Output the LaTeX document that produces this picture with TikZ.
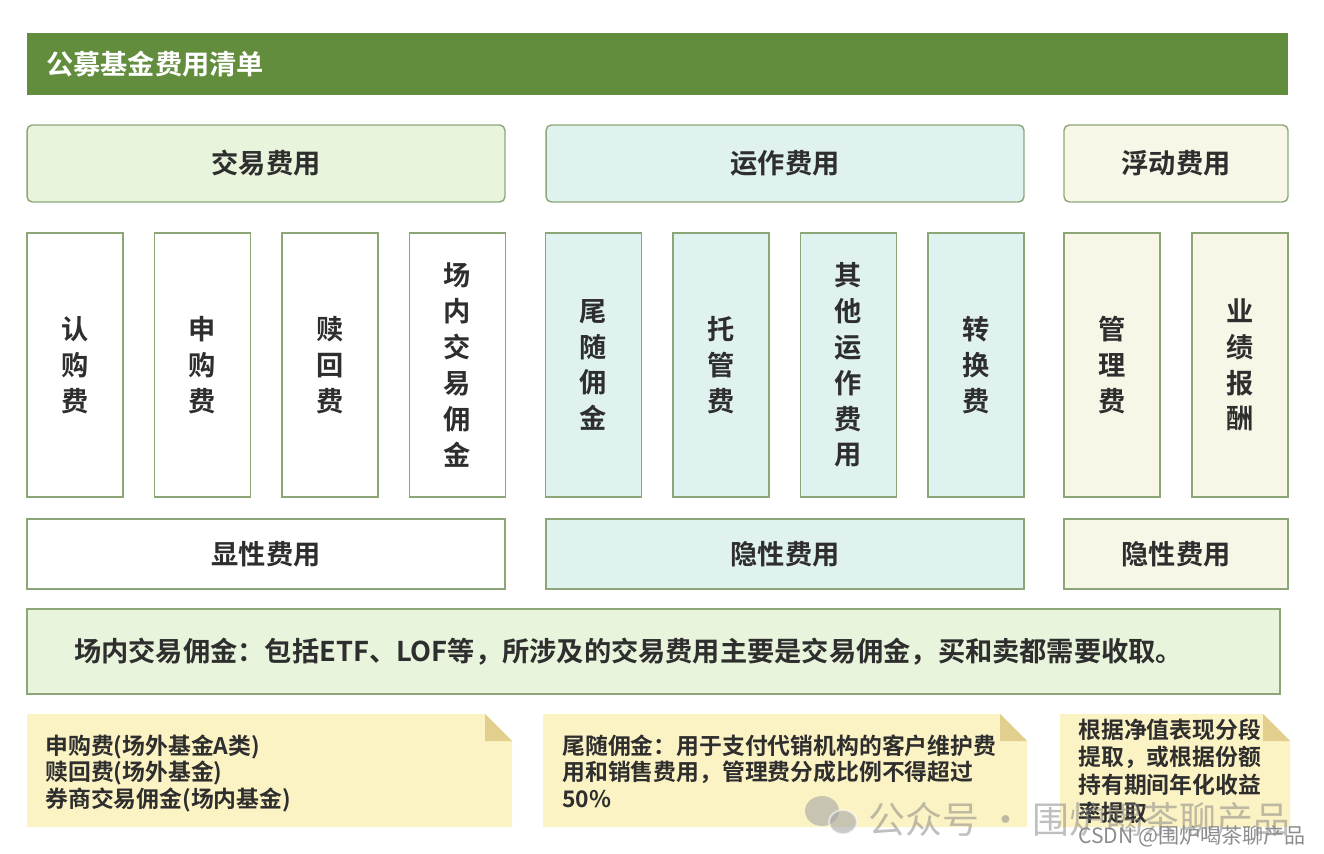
\documentclass[tikz,border=0pt]{standalone}
\usepackage{fontspec}
\setmainfont{Noto Sans CJK SC}[BoldFont={Noto Sans CJK SC Bold}]
\usetikzlibrary{positioning}
\definecolor{titlegreen}{HTML}{628D3C}
\definecolor{boxline}{HTML}{8DA678}
\definecolor{greenfill}{HTML}{E9F4DD}
\definecolor{cyanfill}{HTML}{DFF2EF}
\definecolor{creamfill}{HTML}{F8F6E7}
\definecolor{notefill}{HTML}{FCF3C4}
\definecolor{notefold}{HTML}{E2CF8E}
\definecolor{inkgray}{HTML}{2E2E2E}
\tikzset{
  headbox/.style={draw=boxline, line width=0.8pt, rounded corners=3pt, minimum height=1.54cm, text=inkgray, font=\bfseries\fontsize{15.5}{18}\selectfont},
  colbox/.style={draw=boxline, line width=0.8pt, minimum width=1.92cm, minimum height=5.28cm, align=center, text=inkgray, font=\bfseries\fontsize{15.5}{20.4}\selectfont},
  footbox/.style={draw=boxline, line width=0.8pt, minimum height=1.4cm, text=inkgray, font=\bfseries\fontsize{15.5}{18}\selectfont},
  notetext/.style={anchor=north west, align=left, inner sep=0pt, text=inkgray, font=\bfseries\fontsize{13}{15.3}\selectfont},
}
\begin{document}
\begin{tikzpicture}[x=0.02cm, y=-0.02cm]
    \useasboundingbox (0,0) rectangle (1324,854);
    % title bar
    \node[fill=titlegreen, minimum width=25.22cm, minimum height=1.24cm] (bar) at (657.5,64) {};
    \node[anchor=west, text=white, font=\bfseries\fontsize{15.5}{18}\selectfont] (title) at (40,64) {公募基金费用清单};
    % group headers
    \node[headbox, fill=greenfill, minimum width=9.56cm] (trade) at (266,163.5) {交易费用};
    \node[headbox, fill=cyanfill, minimum width=9.56cm] (oper) at (785,163.5) {运作费用};
    \node[headbox, fill=creamfill, minimum width=4.48cm] (float) at (1176,163.5) {浮动费用};
    % fee columns
    \foreach \cx/\nm/\txt in {75/rg/{认\\购\\费}, 202.5/sg/{申\\购\\费}, 330/sh/{赎\\回\\费}, 457.5/cn/{场\\内\\交\\易\\佣\\金}}
        \node[colbox, fill=white] (\nm) at (\cx,365) {\txt};
    \foreach \cx/\nm/\txt in {593.5/ws/{尾\\随\\佣\\金}, 721/tg/{托\\管\\费}, 848.5/qt/{其\\他\\运\\作\\费\\用}, 976/zh/{转\\换\\费}}
        \node[colbox, fill=cyanfill] (\nm) at (\cx,365) {\txt};
    \foreach \cx/\nm/\txt in {1112/gl/{管\\理\\费}, 1240/yj/{业\\绩\\报\\酬}}
        \node[colbox, fill=creamfill] (\nm) at (\cx,365) {\txt};
    % explicit / hidden
    \node[footbox, fill=white, minimum width=9.56cm] (xian) at (266,554) {显性费用};
    \node[footbox, fill=cyanfill, minimum width=9.56cm] (yin) at (785,554) {隐性费用};
    \node[footbox, fill=creamfill, minimum width=4.48cm] (yin2) at (1176,554) {隐性费用};
    % remark strip
    \node[draw=boxline, line width=0.8pt, fill=greenfill, minimum width=25.06cm, minimum height=1.7cm] (strip) at (653.5,651.5) {};
    \node[anchor=west, text=inkgray, font=\bfseries\fontsize{15.5}{18}\selectfont] (striptxt) at (68,652) {场内交易佣金：包括ETF、LOF等，所涉及的交易费用主要是交易佣金，买和卖都需要收取。};
    % sticky notes
    \foreach \xa/\xb in {27/512, 543/1027, 1060/1290} {
        \fill[notefill] (\xa,714) -- ({\xb-27},714) -- (\xb,741) -- (\xb,827) -- (\xa,827) -- cycle;
        \fill[notefold] ({\xb-27},714) -- ({\xb-27},741) -- (\xb,741) -- cycle;
    }
    \node[notetext] (note1) at (45,734) {申购费(场外基金A类)\\赎回费(场外基金)\\券商交易佣金(场内基金)};
    \node[notetext] (note2) at (562,734) {尾随佣金：用于支付代销机构的客户维护费\\用和销售费用，管理费分成比例不得超过\\50\%};
    \node[notetext, font=\bfseries\fontsize{13}{15.9}\selectfont] (note3) at (1078,718) {根据净值表现分段\\提取，或根据份额\\持有期间年化收益\\率提取};
    % watermark
    \fill[gray!70, opacity=0.6] (822,811) ellipse (17 and 15);
    \fill[gray!70, opacity=0.6, draw=white, line width=1pt] (843,822) ellipse (14 and 12);
    \node[anchor=west, text=gray, opacity=0.5, font=\fontsize{21}{24}\selectfont] (wm) at (862,819) {公众号 · 围炉喝茶聊产品};
    \node[anchor=east, text=gray!90, font=\fontsize{12}{14}\selectfont] (csdn) at (1312,836) {CSDN @围炉喝茶聊产品};
\end{tikzpicture}
\end{document}
